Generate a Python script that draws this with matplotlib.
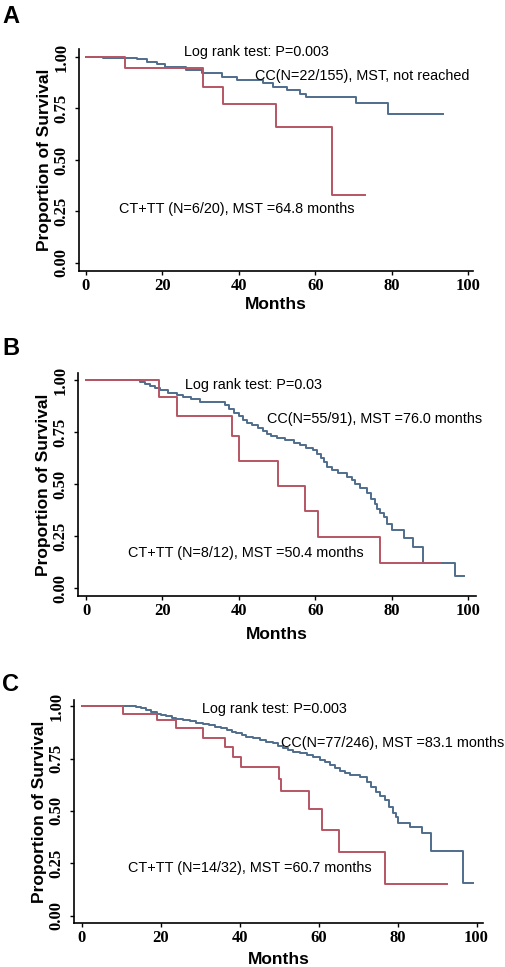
import numpy as np
import matplotlib
matplotlib.use('Agg')
import matplotlib.pyplot as plt

# Kaplan-Meier curves (months, survival)
a_cc_t = [0, 4.5, 13.3, 15.9, 18.5, 20.7, 26.3, 30.3, 35.5, 39.4, 46.4, 49.0, 52.5, 56.0, 57.7, 70.7, 79.0, 93.4]
a_cc_s = [1.0, 0.997, 0.989, 0.977, 0.966, 0.953, 0.937, 0.921, 0.902, 0.888, 0.875, 0.856, 0.840, 0.819, 0.808, 0.775, 0.722, 0.722]
a_ct_t = [0, 10.2, 30.5, 35.8, 49.7, 64.5, 72.9]
a_ct_s = [1.0, 0.945, 0.856, 0.772, 0.662, 0.33, 0.33]

b_cc_t = [0, 14.1, 15.5, 16.8, 18.0, 19.4, 21.5, 23.7, 25.5, 27.5, 29.8, 36.4, 37.5, 38.6, 40.0, 41.0,
          42.1, 43.5, 45.0, 46.2, 47.3, 48.5, 50.0, 52.0, 54.3, 56.0, 57.5, 59.5, 60.5, 61.5, 62.3, 63.0,
          64.5, 66.0, 68.2, 69.5, 70.5, 71.7, 73.5, 74.5, 75.5, 76.1, 77.0, 78.0, 78.8, 80.0, 83.1, 85.7,
          88.1, 96.6, 99.0]
b_cc_s = [1.0, 0.99, 0.98, 0.97, 0.962, 0.952, 0.94, 0.928, 0.918, 0.908, 0.896, 0.88, 0.86, 0.84, 0.825, 0.81,
          0.795, 0.785, 0.77, 0.755, 0.742, 0.73, 0.72, 0.71, 0.697, 0.688, 0.675, 0.664, 0.645, 0.625, 0.605, 0.584,
          0.568, 0.552, 0.535, 0.52, 0.50, 0.48, 0.456, 0.43, 0.405, 0.38, 0.36, 0.34, 0.31, 0.28, 0.24, 0.20,
          0.12, 0.06, 0.06]
b_ct_t = [0, 19.2, 23.7, 38.1, 40.1, 50.3, 57.3, 60.6, 77.0, 92.7]
b_ct_s = [1.0, 0.917, 0.825, 0.733, 0.61, 0.49, 0.37, 0.245, 0.12, 0.12]

c_cc_t = [0, 13.9, 15.0, 16.4, 17.7, 19.0, 20.2, 21.5, 22.8, 24.0, 25.7, 27.4, 29.0, 30.8, 32.2, 33.7, 35.2,
          36.7, 38.0, 39.2, 40.5, 41.7, 43.4, 45.1, 46.8, 48.5, 49.8, 51.0, 52.3, 53.6, 55.3, 57.0, 58.7,
          60.4, 61.6, 62.9, 64.2, 65.4, 66.6, 67.9, 70.5, 72.2, 73.3, 74.5, 75.5, 76.8, 77.8, 78.9, 79.5,
          80.2, 83.1, 86.1, 88.4, 96.6, 99.2]
c_cc_s = [1.0, 0.995, 0.989, 0.981, 0.973, 0.964, 0.957, 0.951, 0.945, 0.938, 0.933, 0.927, 0.92, 0.914, 0.909, 0.902, 0.894,
          0.886, 0.878, 0.87, 0.862, 0.854, 0.846, 0.838, 0.83, 0.822, 0.812, 0.802, 0.792, 0.783, 0.774, 0.765, 0.755,
          0.745, 0.735, 0.72, 0.707, 0.69, 0.679, 0.672, 0.663, 0.64, 0.615, 0.59, 0.57, 0.55, 0.52, 0.49, 0.472,
          0.443, 0.421, 0.393, 0.309, 0.155, 0.155]
c_ct_t = [0, 10.5, 19.2, 24.0, 30.7, 36.2, 38.4, 40.4, 50.0, 50.6, 57.6, 61.0, 65.1, 76.9, 92.6]
c_ct_s = [1.0, 0.964, 0.932, 0.894, 0.847, 0.803, 0.756, 0.708, 0.653, 0.595, 0.51, 0.408, 0.306, 0.153, 0.153]

panels = [
    ('A', a_cc_t, a_cc_s, a_ct_t, a_ct_s, 'Log rank test: P=0.003',
     'CC(N=22/155), MST, not reached', 'CT+TT (N=6/20), MST =64.8 months'),
    ('B', b_cc_t, b_cc_s, b_ct_t, b_ct_s, 'Log rank test: P=0.03',
     'CC(N=55/91), MST =76.0 months', 'CT+TT (N=8/12), MST =50.4 months'),
    ('C', c_cc_t, c_cc_s, c_ct_t, c_ct_s, 'Log rank test: P=0.003',
     'CC(N=77/246), MST =83.1 months', 'CT+TT (N=14/32), MST =60.7 months'),
]

# layout (figure fractions) and text spots per panel
rects = [[0.156, 0.7198, 0.779, 0.2296],
         [0.155, 0.3840, 0.786, 0.2303],
         [0.146, 0.0452, 0.809, 0.2309]]
xlims = [(-1.83, 101.3), (-2.0, 102.1), (-1.95, 101.7)]
ylims = [(-0.039, 1.039), (-0.036, 1.034), (-0.036, 1.029)]
logrank_xy = [(25.7, 1.026), (25.9, 0.976), (30.4, 0.986)]
cc_xy = [(44.2, 0.908), (47.3, 0.811), (50.6, 0.822)]
ct_xy = [(8.7, 0.262), (11.1, 0.171), (11.8, 0.226)]
xlab_pad = [2.3, 6.0, 4.2]
letter_y = [0.995, 0.651, 0.304]

blue = '#4f6d8c'
red = '#b55563'
serif = 'Liberation Serif'
sans = 'Liberation Sans'

fig = plt.figure(figsize=(5.06, 9.67), dpi=100)

for i, (lab, cc_t, cc_s, ct_t, ct_s, lr, cc_lab, ct_lab) in enumerate(panels):
    ax = fig.add_axes(rects[i])
    ax.step(cc_t, cc_s, where='post', color=blue, lw=1.4)
    ax.step(ct_t, ct_s, where='post', color=red, lw=1.4)
    ax.set_xlim(*xlims[i])
    ax.set_ylim(*ylims[i])
    ax.spines['top'].set_visible(False)
    ax.spines['right'].set_visible(False)
    for sp in ['left', 'bottom']:
        ax.spines[sp].set_linewidth(1.2)
    ax.set_xticks([0, 20, 40, 60, 80, 100])
    ax.set_yticks([0, 0.25, 0.5, 0.75, 1.0])
    ax.set_xticklabels(['0', '20', '40', '60', '80', '100'], fontfamily=serif,
                       fontweight='bold', fontsize=12)
    ax.set_yticklabels(['0.00', '0.25', '0.50', '0.75', '1.00'], fontfamily=serif,
                       fontweight='bold', fontsize=12, rotation=90, va='center')
    ax.tick_params(length=3, width=1, pad=2)
    ax.tick_params(axis='y', pad=4)
    ax.set_xlabel('Months', fontfamily=sans, fontweight='bold', fontsize=12.5,
                  labelpad=xlab_pad[i])
    ax.set_ylabel('Proportion of Survival', fontfamily=sans, fontweight='bold', fontsize=12.5,
                  labelpad=1)
    ax.text(*logrank_xy[i], lr, fontfamily=sans, fontsize=10.4, va='center', ha='left')
    ax.text(*cc_xy[i], cc_lab, fontfamily=sans, fontsize=10.4, va='center', ha='left')
    ax.text(*ct_xy[i], ct_lab, fontfamily=sans, fontsize=10.4, va='center', ha='left')
    fig.text(0.004, letter_y[i], lab, fontfamily=sans, fontweight='bold', fontsize=17,
             va='top', ha='left')

fig.savefig('out.png', dpi=100)
